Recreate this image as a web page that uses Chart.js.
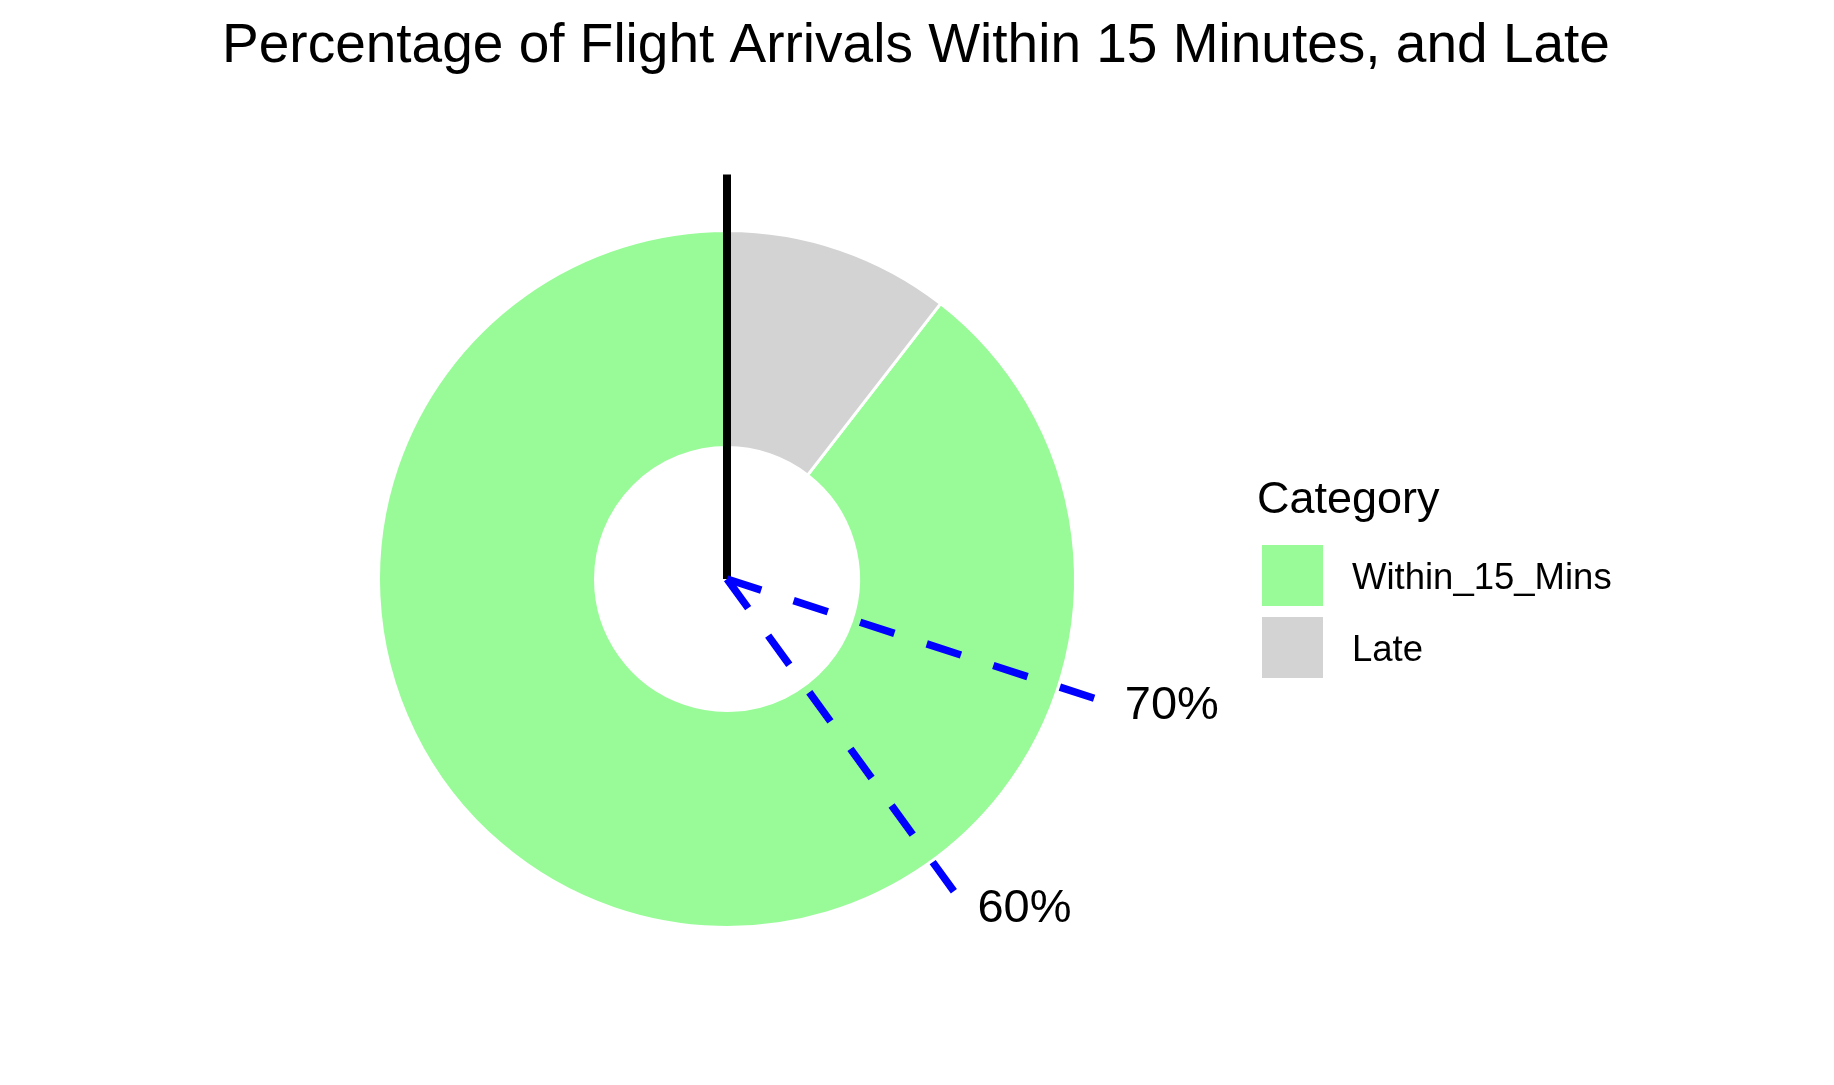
<!DOCTYPE html>
<html>
<head>
<meta charset="utf-8">
<script src="https://cdn.jsdelivr.net/npm/chart.js@4.4.0/dist/chart.umd.min.js"></script>
<style>
  html, body { margin: 0; padding: 0; background: #ffffff; }
  #wrap { position: relative; width: 1834px; height: 1085px; }
</style>
</head>
<body>
<div id="wrap"><canvas id="c"></canvas></div>
<script>
// ---- data ----
const titleText = 'Percentage of Flight Arrivals Within 15 Minutes, and Late';
const legendTitle = 'Category';
const categories = ['Within_15_Mins', 'Late'];
const values = [89.5, 10.5];
const sliceColors = ['#98FB98', '#D3D3D3'];
const refLevels = [60, 70];
const refLabels = ['60%', '70%'];

const FONT = '"Liberation Sans", Arial, Helvetica, sans-serif';
const total = values.reduce((a, b) => a + b, 0);
const startRotation = values[1] / total * 360; // Late occupies the first wedge clockwise from 12 o'clock

const overlay = {
  id: 'overlay',
  afterDatasetsDraw(chart) {
    const ctx = chart.ctx;
    const arc = chart.getDatasetMeta(0).data[0];
    const cx = arc.x, cy = arc.y, R = arc.outerRadius;
    const pt = (frac, r) => {
      const t = frac * Math.PI * 2;
      return [cx + r * Math.sin(t), cy - r * Math.cos(t)];
    };
    ctx.save();
    // black start marker
    ctx.beginPath();
    ctx.strokeStyle = '#000000';
    ctx.lineWidth = 8;
    ctx.lineCap = 'butt';
    ctx.moveTo(cx, cy);
    const top = pt(0, R * 1.161);
    ctx.lineTo(top[0], top[1]);
    ctx.stroke();
    // reference dashed lines
    refLevels.forEach((v, i) => {
      const frac = 1 - v / 100;
      const end = pt(frac, R * 1.121);
      ctx.beginPath();
      ctx.setLineDash([36, 34]);
      ctx.strokeStyle = '#0000FF';
      ctx.lineWidth = 7.5;
      ctx.moveTo(cx, cy);
      ctx.lineTo(end[0], end[1]);
      ctx.stroke();
      ctx.setLineDash([]);
      const a = pt(frac, R * 1.164);
      ctx.fillStyle = '#000000';
      ctx.font = '47px ' + FONT;
      ctx.textAlign = 'left';
      ctx.textBaseline = 'middle';
      ctx.fillText(refLabels[i], a[0] + 12, a[1] + 2);
    });
    ctx.restore();
  },
  afterDraw(chart) {
    const ctx = chart.ctx;
    ctx.save();
    // title
    ctx.fillStyle = '#000000';
    ctx.font = '55px ' + FONT;
    ctx.textAlign = 'center';
    ctx.textBaseline = 'alphabetic';
    ctx.fillText(titleText, 916, 62);
    // legend
    ctx.textAlign = 'left';
    ctx.font = '45px ' + FONT;
    ctx.fillText(legendTitle, 1257, 513);
    ctx.font = '36.5px ' + FONT;
    categories.forEach((c, i) => {
      const y = 545 + i * 72;
      ctx.fillStyle = sliceColors[i];
      ctx.fillRect(1262, y, 61, 61);
      ctx.fillStyle = '#000000';
      ctx.fillText(c, 1352, y + 44);
    });
    ctx.restore();
  }
};

new Chart(document.getElementById('c'), {
  type: 'doughnut',
  data: {
    labels: categories,
    datasets: [{
      data: values,
      backgroundColor: sliceColors,
      borderColor: '#ffffff',
      borderWidth: 3,
      radius: 348.5,
      cutout: (131.5 / 348.5 * 100) + '%'
    }]
  },
  options: {
    responsive: true,
    maintainAspectRatio: false,
    animation: false,
    rotation: startRotation,
    layout: { padding: { left: 327, right: 707, top: 179, bottom: 106 } },
    plugins: {
      legend: { display: false },
      title: { display: false },
      tooltip: { enabled: false }
    }
  },
  plugins: [overlay]
});
</script>
</body>
</html>
